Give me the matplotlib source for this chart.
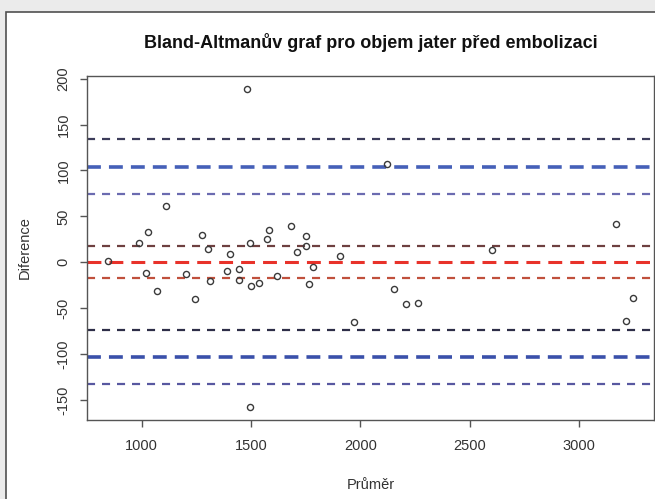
import matplotlib
matplotlib.use("Agg")
import matplotlib.pyplot as plt
from matplotlib.patches import Rectangle

plt.rcParams['font.family'] = ['Liberation Sans', 'DejaVu Sans']
plt.rcParams['lines.scale_dashes'] = False
plt.rcParams['axes.unicode_minus'] = False

# mean of the two measurements vs. their difference
prumer = [848, 990, 1029, 1019, 1071, 1114, 1201, 1243, 1275, 1305,
          1315, 1389, 1404, 1447, 1447, 1495, 1501, 1538, 1575, 1584,
          1621, 1681, 1709, 1750, 1750, 1782, 1763, 1908, 1497, 1971,
          2120, 2601, 3167, 2153, 2209, 2264, 3246, 3215, 1483]
diference = [1.8, 20.8, 32.9, -11.4, -31.5, 61.7, -13.2, -39.9, 29.6, 14.3,
             -20.2, -9.5, 9.1, -7.3, -19.4, 20.8, -26.0, -23.0, 25.2, 35.4,
             -14.7, 39.0, 11.0, 28.1, 17.9, -5.2, -24.1, 7.2, -157.9, -65.5,
             107.5, 13.2, 42.0, -29.6, -45.0, -43.9, -38.6, -64.0, 189.0]

# bias, limits of agreement and their confidence intervals
bias = 0.6
bias_ci = [17.8, -16.6]
loa_upper = 104.3
loa_upper_ci = [133.8, 74.8]
loa_lower = -103.1
loa_lower_ci = [-73.6, -132.6]

fig = plt.figure(figsize=(6.55, 4.99), dpi=100, facecolor='#ebebeb')
fig.patches.append(Rectangle((6 / 655, -0.01), 1.0, 1 - 12 / 499 + 0.01,
                             transform=fig.transFigure, facecolor='white',
                             edgecolor='#505050', linewidth=1.2, zorder=-10))

ax = fig.add_axes([87.3 / 655, 1 - 420 / 499, (654 - 87.3) / 655, (420 - 76) / 499])
ax.set_facecolor('white')

thin = (5.8, 5.0)
thick = (10.0, 5.8)
ax.axhline(loa_upper_ci[0], color='#3c3c5a', lw=1.6, dashes=thin)
ax.axhline(loa_upper, color='#4560b8', lw=2.6, dashes=thick)
ax.axhline(loa_upper_ci[1], color='#6b6bb0', lw=1.6, dashes=thin)
ax.axhline(bias_ci[0], color='#6e4040', lw=1.6, dashes=thin)
ax.axhline(bias, color='#e8322a', lw=2.2, dashes=thick)
ax.axhline(bias_ci[1], color='#c0503c', lw=1.6, dashes=thin)
ax.axhline(loa_lower_ci[0], color='#2e2e48', lw=1.6, dashes=thin)
ax.axhline(loa_lower, color='#3a50aa', lw=2.6, dashes=thick)
ax.axhline(loa_lower_ci[1], color='#5858a0', lw=1.6, dashes=thin)

ax.plot(prumer, diference, 'o', mfc='none', mec='#3a3a3a', ms=4.4, mew=1.0, zorder=5)

# R-style 4% padding of the data range
xr = max(prumer) - min(prumer)
yr = max(diference) - min(diference)
ax.set_xlim(min(prumer) - 0.04 * xr, max(prumer) + 0.04 * xr)
ax.set_ylim(min(diference) - 0.04 * yr, max(diference) + 0.04 * yr)

ax.set_xticks([1000, 1500, 2000, 2500, 3000])
ax.set_yticks([-150, -100, -50, 0, 50, 100, 150, 200])
for s in ax.spines.values():
    s.set_color('#555555')
    s.set_linewidth(1.0)
ax.tick_params(length=5, width=1.0, color='#555555', labelsize=10.5,
               labelcolor='#333333', pad=7)
ax.tick_params(axis='x', pad=9)
for lab in ax.get_yticklabels():
    lab.set_rotation(90)
    lab.set_va('center')

ax.set_xlabel('Průměr', fontsize=10.5, color='#333333', labelpad=18)
ax.set_ylabel('Diference', fontsize=10.5, color='#333333', labelpad=18)
ax.set_title('Bland-Altmanův graf pro objem jater před embolizaci',
             fontsize=13, fontweight='bold', color='#111111', pad=20)

fig.savefig('out.png', dpi=100, facecolor=fig.get_facecolor())
